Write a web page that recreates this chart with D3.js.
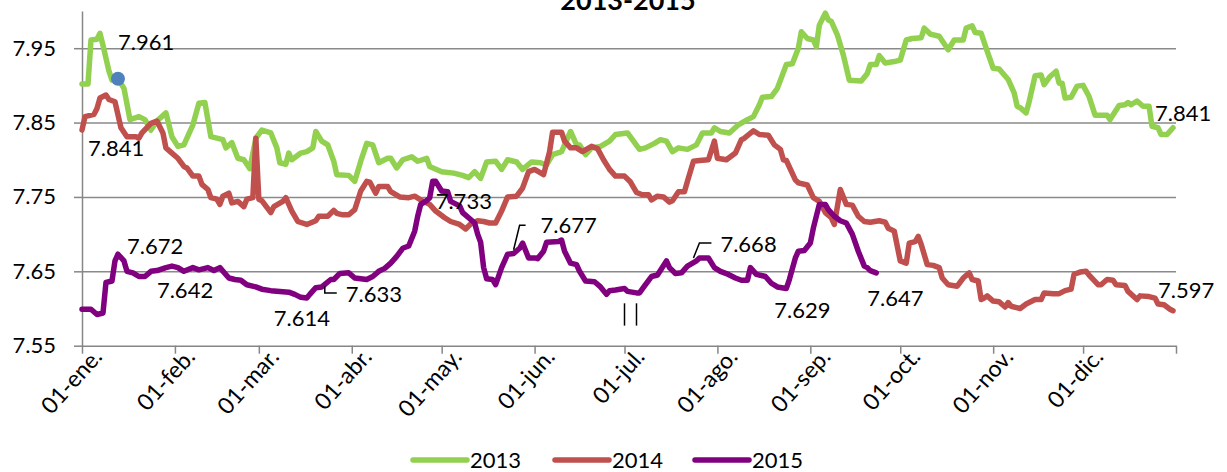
<!DOCTYPE html>
<html>
<head>
<meta charset="utf-8">
<script src="https://cdn.jsdelivr.net/npm/d3@7"></script>
<style>
  body { margin: 0; background: #fff; }
  svg { font-family: Lato, "Open Sans", sans-serif; }
</style>
</head>
<body>
<svg width="1227" height="472"></svg>
<script>
// day of year (0 = 01-ene.) and value for each year
let days2013 = [0,2,3,5,6,7,9,10,12,14,16,19,21,23,25,28,30,32,34,37,39,41,43,45,47,48,50,52,54,56,58,60,63,65,66,68,69,70,73,75,77,78,80,82,84,85,89,91,93,95,97,99,102,103,105,107,110,112,115,116,120,124,127,129,131,133,135,138,140,142,145,147,150,153,155,157,160,161,163,165,166,168,170,173,176,178,182,184,186,188,191,193,195,197,199,202,205,207,210,211,213,216,219,222,224,226,227,230,232,235,237,239,240,242,244,245,246,248,249,250,252,254,256,260,262,263,265,266,268,271,273,275,277,280,281,283,286,289,291,294,295,297,298,300,302,304,306,309,311,312,313,315,316,318,320,321,323,325,326,327,328,330,332,334,336,338,342,343,346,348,349,350,352,354,356,357,359,360,362,364];
let vals2013 = [7.902,7.902,7.961,7.962,7.970,7.954,7.919,7.907,7.909,7.896,7.854,7.858,7.854,7.840,7.852,7.863,7.831,7.818,7.820,7.847,7.876,7.877,7.831,7.829,7.827,7.816,7.823,7.802,7.800,7.788,7.829,7.840,7.836,7.816,7.796,7.794,7.809,7.800,7.809,7.811,7.816,7.838,7.825,7.820,7.798,7.780,7.779,7.771,7.798,7.822,7.820,7.796,7.802,7.802,7.789,7.800,7.804,7.798,7.802,7.791,7.784,7.782,7.779,7.776,7.784,7.775,7.797,7.798,7.787,7.800,7.797,7.787,7.797,7.796,7.793,7.807,7.811,7.820,7.838,7.820,7.820,7.807,7.816,7.818,7.825,7.834,7.836,7.825,7.814,7.816,7.822,7.827,7.825,7.811,7.816,7.814,7.820,7.836,7.836,7.843,7.838,7.836,7.847,7.854,7.858,7.874,7.884,7.885,7.896,7.928,7.929,7.950,7.972,7.963,7.961,7.952,7.981,7.997,7.988,7.986,7.968,7.941,7.907,7.906,7.916,7.928,7.928,7.940,7.930,7.932,7.934,7.961,7.963,7.964,7.977,7.969,7.966,7.948,7.961,7.961,7.977,7.980,7.971,7.970,7.946,7.923,7.922,7.908,7.890,7.872,7.870,7.863,7.878,7.913,7.914,7.901,7.912,7.919,7.903,7.903,7.883,7.884,7.899,7.900,7.885,7.860,7.860,7.854,7.873,7.874,7.877,7.874,7.879,7.872,7.872,7.845,7.843,7.834,7.834,7.843];

let days2014 = [0,1,4,5,6,8,9,11,13,15,18,19,20,23,25,27,28,30,32,34,35,37,39,40,42,43,45,46,47,49,50,52,54,55,57,58,59,60,63,64,67,68,70,72,75,78,79,82,84,85,87,89,91,93,95,96,98,99,102,103,106,109,111,113,116,118,121,123,126,128,130,132,134,136,138,140,142,145,147,149,151,154,156,157,160,161,163,165,167,170,172,174,176,178,181,183,185,187,189,190,192,194,196,197,199,201,202,204,206,209,211,212,215,218,220,221,224,226,229,231,233,234,235,238,239,242,244,246,248,250,251,253,255,257,259,261,263,266,268,269,271,273,275,276,278,279,280,282,284,286,287,289,292,294,296,297,299,300,301,302,304,306,308,309,310,313,315,316,318,320,321,324,326,328,330,331,333,335,336,339,340,342,344,345,348,349,352,353,356,358,359,361,363,364];
let vals2014 = [7.840,7.858,7.861,7.869,7.883,7.887,7.881,7.878,7.843,7.831,7.831,7.829,7.836,7.849,7.852,7.836,7.816,7.809,7.802,7.791,7.789,7.778,7.778,7.767,7.760,7.749,7.747,7.740,7.751,7.755,7.742,7.744,7.737,7.747,7.749,7.829,7.747,7.745,7.729,7.737,7.744,7.749,7.731,7.717,7.713,7.718,7.724,7.724,7.732,7.728,7.726,7.726,7.733,7.758,7.771,7.770,7.755,7.764,7.764,7.757,7.750,7.749,7.751,7.746,7.740,7.731,7.722,7.717,7.713,7.707,7.715,7.718,7.717,7.715,7.715,7.731,7.750,7.751,7.762,7.784,7.787,7.780,7.811,7.837,7.837,7.825,7.816,7.816,7.811,7.818,7.815,7.800,7.787,7.778,7.778,7.770,7.756,7.753,7.753,7.746,7.751,7.750,7.743,7.745,7.757,7.757,7.771,7.798,7.799,7.800,7.825,7.802,7.800,7.809,7.827,7.829,7.839,7.834,7.833,7.820,7.814,7.800,7.799,7.773,7.769,7.766,7.749,7.744,7.729,7.722,7.713,7.760,7.740,7.739,7.724,7.717,7.716,7.718,7.716,7.708,7.704,7.664,7.661,7.688,7.690,7.697,7.686,7.659,7.658,7.655,7.641,7.632,7.630,7.641,7.648,7.639,7.637,7.612,7.614,7.617,7.610,7.609,7.602,7.608,7.603,7.600,7.606,7.608,7.612,7.612,7.621,7.620,7.620,7.624,7.626,7.646,7.649,7.650,7.645,7.632,7.632,7.639,7.638,7.632,7.631,7.623,7.612,7.617,7.616,7.614,7.606,7.605,7.599,7.597];

let days2015 = [0,3,5,7,8,10,11,12,14,15,17,19,21,23,25,28,30,32,34,37,39,42,44,46,49,51,53,55,58,60,63,66,69,71,73,75,76,78,80,83,84,86,89,91,93,95,97,99,101,103,105,107,109,111,112,113,115,116,117,118,120,122,123,126,127,129,131,132,133,134,135,137,138,140,142,144,146,147,149,151,152,154,155,159,160,161,163,165,166,168,171,173,175,176,178,181,182,185,186,188,190,192,195,196,198,200,202,205,206,209,211,213,215,218,220,222,223,225,228,230,232,235,236,238,239,241,243,244,246,248,249,251,253,255,257,259,261,262,263,265];
let vals2015 = [7.599,7.599,7.592,7.594,7.635,7.637,7.664,7.673,7.664,7.650,7.648,7.643,7.643,7.650,7.651,7.655,7.657,7.655,7.650,7.655,7.652,7.655,7.651,7.655,7.641,7.639,7.638,7.632,7.629,7.626,7.624,7.623,7.622,7.619,7.615,7.614,7.619,7.628,7.629,7.639,7.639,7.647,7.648,7.641,7.640,7.639,7.643,7.650,7.654,7.661,7.670,7.681,7.684,7.704,7.724,7.740,7.745,7.749,7.771,7.771,7.758,7.757,7.744,7.738,7.729,7.722,7.715,7.700,7.689,7.655,7.640,7.639,7.632,7.655,7.673,7.674,7.681,7.688,7.668,7.668,7.667,7.677,7.689,7.690,7.692,7.677,7.661,7.659,7.650,7.637,7.636,7.629,7.619,7.624,7.625,7.627,7.623,7.621,7.621,7.632,7.643,7.645,7.664,7.655,7.647,7.648,7.657,7.664,7.668,7.668,7.655,7.650,7.647,7.641,7.638,7.638,7.655,7.646,7.643,7.634,7.629,7.627,7.639,7.668,7.677,7.678,7.688,7.708,7.740,7.740,7.733,7.724,7.718,7.715,7.700,7.677,7.657,7.655,7.651,7.648];

let seriesNames = ["2013", "2014", "2015"];
let seriesColors = ["#92D050", "#C0504D", "#800080"];
let monthLabels = ["ene.", "feb.", "mar.", "abr.", "may.", "jun.", "jul.", "ago.", "sep.", "oct.", "nov.", "dic."];
let yTicks = [7.55, 7.65, 7.75, 7.85, 7.95];

// data labels: text, day, value where the label sits
let labelTexts = ["7.961", "7.841", "7.672", "7.642", "7.614", "7.633", "7.733", "7.677", "7.668", "7.629", "7.647", "7.597", "7.841"];
let labelDays = [12.7, 2.0, 15.3, 25.4, 64.4, 88.8, 118.5, 153.5, 213.5, 231.9, 262.9, 359.7, 358.7];
let labelVals = [7.947, 7.805, 7.673, 7.614, 7.577, 7.609, 7.734, 7.701, 7.676, 7.587, 7.603, 7.614, 7.852];

// leader lines for some labels
let leaders = [
    [[81.7, 7.630], [81.7, 7.621], [85.4, 7.621]],
    [[148.5, 7.712], [146.5, 7.712], [144.8, 7.679]],
    [[210.2, 7.688], [206.9, 7.688], [204.5, 7.668]],
    [[181.2, 7.607], [181.2, 7.577]],
    [[185.5, 7.607], [185.5, 7.577]]
];

let svg = d3.select("svg"),
    margin = {top: 11, right: 51, bottom: 126.3, left: 82},
    width = +svg.attr("width") - margin.left - margin.right,
    height = +svg.attr("height") - margin.top - margin.bottom;

let start = new Date(2015, 0, 1);
let dayDate = d => new Date(2015, 0, 1 + d);

let x = d3.scaleTime().domain([start, new Date(2016, 0, 1)]).range([0, width]),
    y = d3.scaleLinear().domain([7.55, 8.0]).range([height, 0]);

let g = svg.append("g")
    .attr("transform", "translate(" + margin.left + "," + margin.top + ")");

// gridlines
g.append("g")
    .attr("class", "grid")
    .call(d3.axisLeft(y).tickValues(yTicks.slice(1)).tickSize(-width).tickFormat(""))
    .call(s => s.select(".domain").remove())
    .selectAll("line")
    .attr("stroke", "#8a8a8a")
    .attr("stroke-width", 1.5);

// y axis
let yAxis = g.append("g")
    .call(d3.axisLeft(y).tickValues(yTicks).tickSize(8).tickSizeOuter(0).tickPadding(18).tickFormat(d3.format(".2f")));
yAxis.selectAll("text").attr("font-size", 22).attr("fill", "#000").attr("font-family", "Lato");

// x axis
let xAxis = g.append("g")
    .attr("transform", "translate(0," + height + ")")
    .call(d3.axisBottom(x).ticks(d3.timeMonth.every(1)).tickSize(8).tickSizeOuter(0)
        .tickFormat(d => d.getFullYear() === 2015 ? "01-" + monthLabels[d.getMonth()] : ""));
xAxis.selectAll("text")
    .attr("font-size", 23)
    .attr("fill", "#000")
    .attr("font-family", "Lato")
    .attr("text-anchor", "end")
    .attr("dy", null)
    .attr("y", null)
    .attr("transform", "translate(21,12) rotate(-48)");

svg.selectAll(".domain, .tick line").attr("stroke", "#868686").attr("stroke-width", 1.5);
g.selectAll(".grid .tick line").attr("stroke", "#8a8a8a");

// lines
let line = d3.line()
    .x(d => x(dayDate(d[0])))
    .y(d => y(d[1]));

let allDays = [days2013, days2014, days2015];
let allVals = [vals2013, vals2014, vals2015];

allDays.forEach(function (days, i) {
    let pts = days.map((d, j) => [d, allVals[i][j]]);
    g.append("path")
        .datum(pts)
        .attr("fill", "none")
        .attr("stroke", seriesColors[i])
        .attr("stroke-width", 5.5)
        .attr("stroke-linejoin", "round")
        .attr("stroke-linecap", "round")
        .attr("d", line);
});

// highlighted point on 2013
let hl = days2013.indexOf(12);
g.append("circle")
    .attr("cx", x(dayDate(days2013[hl])))
    .attr("cy", y(vals2013[hl]))
    .attr("r", 7)
    .attr("fill", "#4F81BD");

// leader lines
g.selectAll(".leader")
    .data(leaders)
    .enter().append("path")
    .attr("class", "leader")
    .attr("fill", "none")
    .attr("stroke", "#000")
    .attr("stroke-width", 1.5)
    .attr("d", d3.line().x(d => x(dayDate(d[0]))).y(d => y(d[1])));

// data labels
g.selectAll(".dlabel")
    .data(labelTexts)
    .enter().append("text")
    .attr("class", "dlabel")
    .attr("x", (t, i) => x(dayDate(labelDays[i])))
    .attr("y", (t, i) => y(labelVals[i]))
    .attr("font-size", 22)
    .attr("fill", "#000")
    .text(t => t);

// title (cut off at the top, as in the source)
svg.append("text")
    .attr("x", 628)
    .attr("y", 10)
    .attr("text-anchor", "middle")
    .attr("font-size", 27)
    .attr("font-weight", "bold")
    .text("2013-2015");

// legend
let legendX = [413, 555, 695];
let legend = svg.selectAll(".legend")
    .data(seriesNames)
    .enter().append("g")
    .attr("transform", (d, i) => "translate(" + legendX[i] + ",460)");
legend.append("line")
    .attr("x1", 0).attr("x2", 54)
    .attr("stroke", (d, i) => seriesColors[i])
    .attr("stroke-width", 5.5)
    .attr("stroke-linecap", "round");
legend.append("text")
    .attr("x", 57)
    .attr("dy", "0.35em")
    .attr("font-size", 22)
    .text(d => d);
</script>
</body>
</html>
